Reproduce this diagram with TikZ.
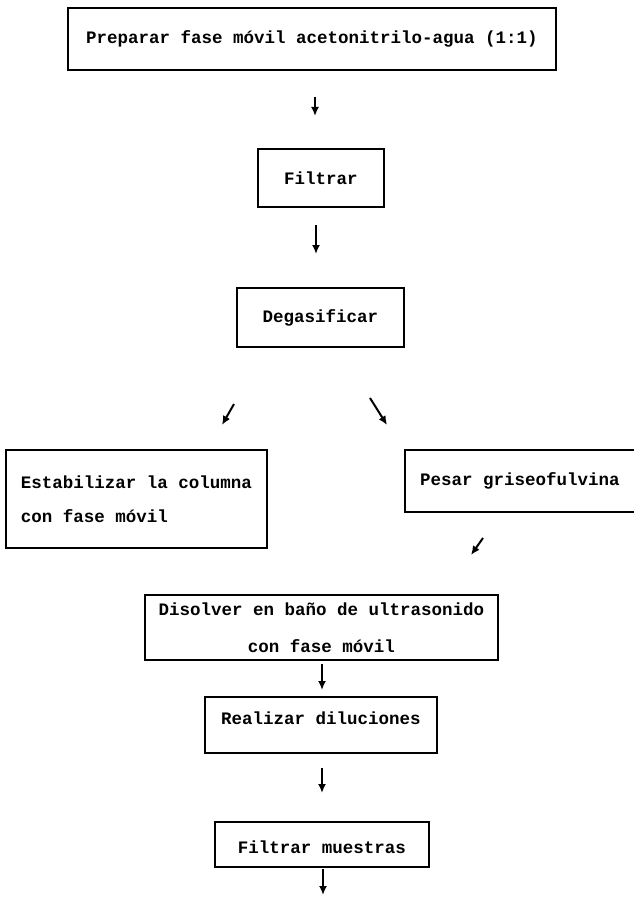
\documentclass[tikz,border=0pt]{standalone}
\usepackage{fontspec}
\setmonofont{Liberation Mono}
\usepackage{tikz}
\usetikzlibrary{arrows.meta}

\tikzset{
  caja/.style={draw, line width=1pt, rectangle, inner sep=0pt, font=\ttfamily\bfseries\fontsize{8.75}{17}\selectfont},
  flecha/.style={-{Latex[length=4.5pt,width=4pt]}, line width=1pt}
}

\begin{document}
\begin{tikzpicture}[x=0.5pt, y=-0.5pt]
    \useasboundingbox (0,0) rectangle (633,899);

    \node[caja, minimum width=244pt, minimum height=31pt] (prep) at (312,39) {Preparar fase móvil acetonitrilo-agua (1:1)};
    \node[caja, minimum width=63pt, minimum height=29pt] (filtrar) at (321,178) {Filtrar};
    \node[caja, minimum width=83.5pt, minimum height=29.5pt] (degas) at (320.5,317.5) {Degasificar};
    \node[caja, minimum width=130.5pt, minimum height=49pt, align=left] (estab) at (136.5,499) {Estabilizar la columna\\con fase móvil};
    \node[caja, minimum width=115pt, minimum height=31pt] (pesar) at (520,481) {Pesar griseofulvina};
    \node[caja, minimum width=176.5pt, minimum height=32.5pt, align=center, font=\ttfamily\bfseries\fontsize{8.75}{18.5}\selectfont] (disolver) at (321.5,627.5) {Disolver en baño de ultrasonido\\con fase móvil};
    \node[caja, minimum width=116pt, minimum height=28pt, text height=6pt, text depth=7pt] (diluc) at (321,725) {Realizar diluciones};
    \node[caja, minimum width=107pt, minimum height=22.5pt, text height=11pt, text depth=2pt] (fmuestras) at (322,844.5) {Filtrar muestras};

    \coordinate (f1a) at (315,97);  \coordinate (f1b) at (315,116);
    \coordinate (f2a) at (316,225); \coordinate (f2b) at (316,254);
    \coordinate (f3a) at (234,404); \coordinate (f3b) at (222,425);
    \coordinate (f4a) at (370,398); \coordinate (f4b) at (387,425);
    \coordinate (f5a) at (483,538); \coordinate (f5b) at (471,555);
    \coordinate (f6a) at (322,664); \coordinate (f6b) at (322,690);
    \coordinate (f7a) at (322,768); \coordinate (f7b) at (322,793);
    \coordinate (f8a) at (323,869); \coordinate (f8b) at (323,895);

    \draw[flecha] (f1a) -- (f1b);
    \draw[flecha] (f2a) -- (f2b);
    \draw[flecha] (f3a) -- (f3b);
    \draw[flecha] (f4a) -- (f4b);
    \draw[flecha] (f5a) -- (f5b);
    \draw[flecha] (f6a) -- (f6b);
    \draw[flecha] (f7a) -- (f7b);
    \draw[flecha] (f8a) -- (f8b);
\end{tikzpicture}
\end{document}
